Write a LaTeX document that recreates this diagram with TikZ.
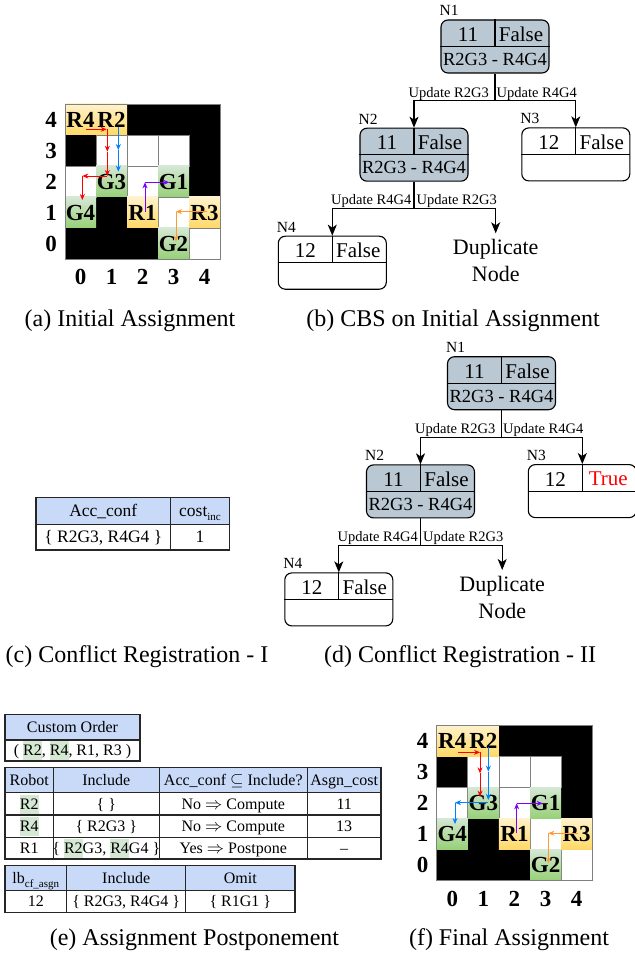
\documentclass[tikz,border=0pt]{standalone}
\usepackage{fontspec}
\setmainfont{Liberation Serif}
\usetikzlibrary{arrows.meta}
\definecolor{hdrblue}{RGB}{201,218,248}
\definecolor{nodegray}{RGB}{186,200,211}
\definecolor{hlgreen}{RGB}{213,232,212}
\definecolor{ylwtop}{RGB}{255,242,204}
\definecolor{ylwbot}{RGB}{255,217,102}
\definecolor{grntop}{RGB}{213,232,212}
\definecolor{grnbot}{RGB}{151,208,119}
\definecolor{mvred}{RGB}{255,0,0}
\definecolor{mvblue}{RGB}{0,127,255}
\definecolor{mvpurple}{RGB}{127,0,255}
\definecolor{mvorange}{RGB}{255,153,51}
\definecolor{gridgray}{RGB}{128,128,128}
\newcommand\hlg[1]{\begingroup\setlength{\fboxsep}{0pt}\colorbox{hlgreen}{\rule[-4.5pt]{0pt}{19pt}#1}\endgroup}
\newcommand\subsm[1]{\raisebox{-4pt}{\fontsize{11}{11}\selectfont #1}}
\newcommand\robotgrid{%
  \fill[black] (2,0) rectangle (5,1);
  \fill[black] (0,1) rectangle (1,2);
  \fill[black] (4,1) rectangle (5,3);
  \fill[black] (1,3) rectangle (2,4);
  \fill[black] (0,4) rectangle (3,5);
  \foreach \gc/\gr in {1/1,2/1,3/1,0/2,2/2,3/3,4/4}{\draw[gridline] (\gc,\gr) rectangle ++(1,1);}
  \foreach \gc/\gr/\gt in {0/0/R4,1/0/R2,2/3/R1,4/3/R3}{%
    \shade[top color=ylwtop,bottom color=ylwbot] (\gc,\gr) rectangle ++(1,1);
    \node[celltext] (\gt) at (\gc+0.5,\gr+0.5) {\gt};}
  \foreach \gc/\gr/\gt in {1/2/G3,3/2/G1,0/3/G4,3/4/G2}{%
    \shade[top color=grntop,bottom color=grnbot] (\gc,\gr) rectangle ++(1,1);
    \node[celltext] (\gt) at (\gc+0.5,\gr+0.5) {\gt};}
  \draw[gridline] (0,0) rectangle (5,5);
  \foreach \gr/\gl in {0/4,1/3,2/2,3/1,4/0}{\node[axislabel] (row\gl) at (-0.45,\gr+0.5) {\gl};}
  \foreach \gc in {0,...,4}{\node[axislabel] (col\gc) at (\gc+0.5,5.58) {\gc};}
}
\newcommand\cbstree[1]{%
  \node[cbsbox, fill=nodegray] (n1) at (495,46.5) {};
  \node[cbsbox, fill=nodegray] (n2) at (414,154.7) {};
  \node[cbsbox, fill=white] (n3) at (575.8,154.4) {};
  \node[cbsbox, fill=white] (n4) at (332.3,262.7) {};
  \foreach \nn/\nl in {n1/N1,n2/N2,n3/N3,n4/N4}{%
    \draw[boxline] (\nn.west) -- (\nn.east);
    \draw[boxline] (\nn.north) -- (\nn.center);
    \node[nlab] (\nn-lab) at ([xshift=-1pt,yshift=3.5pt]\nn.north west) {\nl};}
  \node[topt] (n1-a) at ([xshift=-27pt,yshift=12pt]n1.center) {11};
  \node[topt] (n1-b) at ([xshift=26pt,yshift=12pt]n1.center) {False};
  \node[bott] (n1-c) at ([yshift=-13pt]n1.center) {R2G3 - R4G4};
  \node[topt] (n2-a) at ([xshift=-27pt,yshift=12pt]n2.center) {11};
  \node[topt] (n2-b) at ([xshift=26pt,yshift=12pt]n2.center) {False};
  \node[bott] (n2-c) at ([yshift=-13pt]n2.center) {R2G3 - R4G4};
  \node[topt] (n3-a) at ([xshift=-27pt,yshift=12pt]n3.center) {12};
  \node[topt] (n3-b) at ([xshift=26pt,yshift=12pt]n3.center) {#1};
  \node[topt] (n4-a) at ([xshift=-27pt,yshift=12pt]n4.center) {12};
  \node[topt] (n4-b) at ([xshift=26pt,yshift=12pt]n4.center) {False};
  \draw[cbsedge] (n1.south) -- ++(0,27.3) coordinate (b1) -| (n2.north);
  \draw[cbsedge] (b1) -| (n3.north);
  \node[elab, anchor=south east, inner xsep=6pt] (e12) at (b1) {Update R2G3};
  \node[elab, anchor=south west, inner xsep=1.5pt] (e13) at (b1) {Update R4G4};
  \node[dupnode] (dup) at (495.7,233.3) {Duplicate\\Node};
  \draw[cbsedge] (n2.south) -- ++(0,26.7) coordinate (b2) -| (n4.north);
  \draw[cbsedge] (b2) -| (dup.north);
  \node[elab, anchor=south east, inner xsep=2.5pt] (e24) at (b2) {Update R4G4};
  \node[elab, anchor=south west, inner xsep=2.5pt] (e2d) at (b2) {Update R2G3};
}
\begin{document}
\begin{tikzpicture}[x=1pt,y=-1pt,
  gridline/.style={draw=gridgray, line width=0.8pt},
  celltext/.style={font=\fontsize{23}{23}\selectfont\bfseries, inner sep=0pt},
  axislabel/.style={font=\fontsize{23}{23}\selectfont\bfseries, inner sep=0pt},
  mv/.style={-{Stealth[length=6pt,width=5pt]}, line width=0.9pt},
  cbsbox/.style={draw, line width=1.1pt, rounded corners=7pt, minimum width=108pt, minimum height=53pt, inner sep=0pt},
  boxline/.style={line width=1.1pt},
  cbsedge/.style={line width=1.1pt, -{Stealth[length=11pt,width=9pt,inset=3pt]}},
  topt/.style={font=\fontsize{21}{21}\selectfont, inner sep=0pt},
  bott/.style={font=\fontsize{18.5}{18.5}\selectfont, inner sep=0pt},
  nlab/.style={font=\fontsize{15.5}{15.5}\selectfont, inner sep=0pt, anchor=base west},
  elab/.style={font=\fontsize{14.5}{14.5}\selectfont, inner ysep=0.5pt},
  dupnode/.style={font=\fontsize{22}{26.7}\selectfont, align=center, inner xsep=0pt, inner ysep=6pt, anchor=north},
  tt/.style={font=\fontsize{17.5}{21}\selectfont, inner sep=0pt, text height=13pt, text depth=1.5pt},
  tte/.style={font=\fontsize{16}{20}\selectfont, inner sep=0pt, text height=12pt, text depth=1.5pt},
  tbl/.style={draw=black!85, line width=1.2pt},
  captext/.style={font=\fontsize{24}{28}\selectfont, inner sep=0pt}]
\fill[white] (0,0) rectangle (634,957);
\useasboundingbox (0,0) rectangle (634,957);

% (a) grid
\begin{scope}[shift={(65,104)}, x=31pt, y=-31pt, name prefix=a-]
  \robotgrid
  \draw[mv, mvred] (0.677,0.817) -- (1.344,0.817);
  \draw[mv, mvred] (1.366,0.817) -- (1.366,1.538);
  \draw[mv, mvred] (1.366,1.538) -- (1.366,2.323);
  \draw[mv, mvred] (1.366,2.323) -- (0.559,2.323);
  \draw[mv, mvred] (0.559,2.323) -- (0.559,3.097);
  \draw[mv, mvblue] (1.72,0.731) -- (1.72,1.484);
  \draw[mv, mvblue] (1.72,1.484) -- (1.72,2.183);
  \draw[mv, mvpurple] (2.58,3.473) -- (2.58,2.527);
  \draw[mv, mvpurple] (2.58,2.527) -- (3.366,2.527);
  \draw[mv, mvorange] (4.57,3.473) -- (3.58,3.473);
  \draw[mv, mvorange] (3.58,3.473) -- (3.58,4.44);
\end{scope}

% (f) grid
\begin{scope}[shift={(436.7,725)}, x=31.1pt, y=-31.1pt, name prefix=f-]
  \robotgrid
  \draw[mv, mvred] (0.697,0.879) -- (1.393,0.879);
  \draw[mv, mvred] (1.393,0.879) -- (1.393,1.554);
  \draw[mv, mvred] (1.393,1.554) -- (1.393,2.304);
  \draw[mv, mvblue] (1.661,0.697) -- (1.661,1.5);
  \draw[mv, mvblue] (1.661,1.5) -- (1.661,2.41);
  \draw[mv, mvblue] (1.661,2.497) -- (0.589,2.497);
  \draw[mv, mvblue] (0.589,2.497) -- (0.589,3.183);
  \draw[mv, mvpurple] (2.572,3.48) -- (2.572,2.52);
  \draw[mv, mvpurple] (2.572,2.52) -- (3.408,2.52);
  \draw[mv, mvorange] (4.555,3.48) -- (3.59,3.48);
  \draw[mv, mvorange] (3.59,3.48) -- (3.59,4.448);
\end{scope}

% (b) tree
\begin{scope}[name prefix=b-]
  \cbstree{False}
\end{scope}
% (d) tree
\begin{scope}[shift={(6.5,336.7)}, name prefix=d-]
  \cbstree{\textcolor{red}{True}}
\end{scope}

% (c) table
\fill[hdrblue] (36,497.3) rectangle (229.3,524.3);
\draw[tbl] (36,497.3) rectangle (229.3,550);
\draw[tbl] (36,524.3) -- (229.3,524.3);
\draw[tbl] (170.7,497.3) -- (170.7,550);
\node[tt] (c-h1) at (103.3,510.8) {Acc\_conf};
\node[tt] (c-h2) at (200,510.8) {cost\subsm{inc}};
\node[tt] (c-r1) at (103.3,537.2) {\{ R2G3, R4G4 \}};
\node[tt] (c-r2) at (200,537.2) {1};

% (e) custom order
\fill[hdrblue] (5,714.3) rectangle (140,740);
\draw[tbl] (5,714.3) rectangle (140,761);
\draw[tbl] (5,740) -- (140,740);
\node[tte] (co-h) at (72.5,727.2) {Custom Order};
\node[tte] (co-r) at (72.5,750.5) {( \hlg{R2}, \hlg{R4}, R1, R3 )};

% (e) main table
\fill[hdrblue] (5,767.7) rectangle (381,792.7);
\draw[tbl] (5,767.7) rectangle (381,859);
\foreach \yy in {792.7,815,837.3}{\draw[tbl] (5,\yy) -- (381,\yy);}
\foreach \xx in {53.3,159.3,307.3}{\draw[tbl] (\xx,767.7) -- (\xx,859);}
\node[tte] (m-h1) at (29.2,780.2) {Robot};
\node[tte] (m-h2) at (106.3,780.2) {Include};
\node[tte] (m-h3) at (233.3,780.2) {Acc\_conf $\subseteq$ Include?};
\node[tte] (m-h4) at (344.2,780.2) {Asgn\_cost};
\node[tte] (m-11) at (29.2,803.9) {\hlg{R2}};
\node[tte] (m-12) at (106.3,803.9) {\{ \}};
\node[tte] (m-13) at (233.3,803.9) {No $\Rightarrow$ Compute};
\node[tte] (m-14) at (344.2,803.9) {11};
\node[tte] (m-21) at (29.2,826.2) {\hlg{R4}};
\node[tte] (m-22) at (106.3,826.2) {\{ R2G3 \}};
\node[tte] (m-23) at (233.3,826.2) {No $\Rightarrow$ Compute};
\node[tte] (m-24) at (344.2,826.2) {13};
\node[tte] (m-31) at (29.2,848.2) {R1};
\node[tte] (m-32) at (106.3,848.2) {\{ \hlg{R2}G3, \hlg{R4}G4 \}};
\node[tte] (m-33) at (233.3,848.2) {Yes $\Rightarrow$ Postpone};
\node[tte] (m-34) at (344.2,848.2) {--};

% (e) lb table
\fill[hdrblue] (5,865.7) rectangle (295,890.7);
\draw[tbl] (5,865.7) rectangle (295,912.3);
\draw[tbl] (5,890.7) -- (295,890.7);
\draw[tbl] (66.7,865.7) -- (66.7,912.3);
\draw[tbl] (185.7,865.7) -- (185.7,912.3);
\node[tte] (l-h1) at (35.8,878.2) {lb\subsm{cf\_asgn}};
\node[tte] (l-h2) at (126.2,878.2) {Include};
\node[tte] (l-h3) at (240.3,878.2) {Omit};
\node[tte] (l-r1) at (35.8,901.5) {12};
\node[tte] (l-r2) at (126.2,901.5) {\{ R2G3, R4G4 \}};
\node[tte] (l-r3) at (240.3,901.5) {\{ R1G1 \}};

% captions
\node[captext] (capa) at (130,321) {(a) Initial Assignment};
\node[captext] (capb) at (453,321) {(b) CBS on Initial Assignment};
\node[captext] (capc) at (137,656.7) {(c) Conflict Registration - I};
\node[captext] (capd) at (460,656.7) {(d) Conflict Registration - II};
\node[captext] (cape) at (194.5,940) {(e) Assignment Postponement};
\node[captext] (capf) at (509,940) {(f) Final Assignment};
\end{tikzpicture}
\end{document}
